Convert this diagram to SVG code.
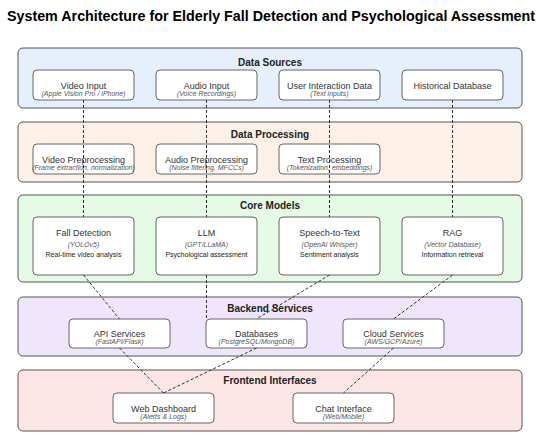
<svg xmlns="http://www.w3.org/2000/svg" width="540" height="436" viewBox="0 0 540 436">
<style>
text{font-family:"Liberation Sans",Arial,sans-serif;text-anchor:middle}
.title{font-size:14.3px;font-weight:bold;fill:#000}
.glabel{font-size:10px;font-weight:bold;fill:#222}
.grp{stroke:#555;stroke-width:1}
.node{fill:#fff;stroke:#666;stroke-width:1}
.nt{font-size:9px;fill:#333}
.ns{font-size:7px;font-style:italic;fill:#555}
.nd{font-size:7px;fill:#222}
.conn{stroke:#333;stroke-width:1;stroke-dasharray:3,2;fill:none}
</style>
<rect width="540" height="436" fill="#fff"/>
<text class="title" x="271" y="20.5">System Architecture for Elderly Fall Detection and Psychological Assessment</text>

<g id="group-data-sources">
<rect class="grp" x="18" y="48" width="504" height="60" rx="5" fill="#e6f0fd"/>
<text class="glabel" x="270" y="65.5">Data Sources</text>
</g>
<g id="group-data-processing">
<rect class="grp" x="18" y="122" width="504" height="60" rx="5" fill="#fdf0e6"/>
<text class="glabel" x="270" y="137.5">Data Processing</text>
</g>
<g id="group-core-models">
<rect class="grp" x="18" y="195" width="504" height="87" rx="5" fill="#e6fbe6"/>
<text class="glabel" x="270" y="209">Core Models</text>
</g>
<g id="group-backend">
<rect class="grp" x="18" y="297" width="504" height="59" rx="5" fill="#f0e6fc"/>
<text class="glabel" x="270" y="312">Backend Services</text>
</g>
<g id="group-frontend">
<rect class="grp" x="18" y="370" width="504" height="61" rx="5" fill="#fde6e6"/>
<text class="glabel" x="270" y="384">Frontend Interfaces</text>
</g>

<g id="video-input">
<rect class="node" x="33" y="70" width="101" height="30" rx="4"/>
<text class="nt" x="83.5" y="88.5">Video Input</text>
<text class="ns" x="83.5" y="95.5">(Apple Vision Pro / iPhone)</text>
</g>
<g id="audio-input">
<rect class="node" x="156" y="70" width="101" height="30" rx="4"/>
<text class="nt" x="206.5" y="88.5">Audio Input</text>
<text class="ns" x="206.5" y="95.5">(Voice Recordings)</text>
</g>
<g id="user-interaction-data">
<rect class="node" x="279" y="70" width="101" height="30" rx="4"/>
<text class="nt" x="329.5" y="88.5">User Interaction Data</text>
<text class="ns" x="329.5" y="95.5">(Text inputs)</text>
</g>
<g id="historical-database">
<rect class="node" x="402" y="70" width="101" height="30" rx="4"/>
<text class="nt" x="452.5" y="88.5">Historical Database</text>
</g>

<g id="video-preprocessing">
<rect class="node" x="33" y="144" width="101" height="30" rx="4"/>
<text class="nt" x="83.5" y="162.5">Video Preprocessing</text>
<text class="ns" x="83.5" y="169.5">(Frame extraction, normalization)</text>
</g>
<g id="audio-preprocessing">
<rect class="node" x="156" y="144" width="101" height="30" rx="4"/>
<text class="nt" x="206.5" y="162.5">Audio Preprocessing</text>
<text class="ns" x="206.5" y="169.5">(Noise filtering, MFCCs)</text>
</g>
<g id="text-processing">
<rect class="node" x="279" y="144" width="101" height="30" rx="4"/>
<text class="nt" x="329.5" y="162.5">Text Processing</text>
<text class="ns" x="329.5" y="169.5">(Tokenization, embeddings)</text>
</g>

<g id="fall-detection">
<rect class="node" x="33" y="217" width="101" height="58" rx="4"/>
<text class="nt" x="83.5" y="236" fill="#222">Fall Detection</text>
<text class="ns" x="83.5" y="246.5">(YOLOv5)</text>
<text class="nd" x="83.5" y="256.5">Real-time video analysis</text>
</g>
<g id="llm">
<rect class="node" x="156" y="217" width="101" height="58" rx="4"/>
<text class="nt" x="206.5" y="236">LLM</text>
<text class="ns" x="206.5" y="246.5">(GPT/LLaMA)</text>
<text class="nd" x="206.5" y="256.5">Psychological assessment</text>
</g>
<g id="speech-to-text">
<rect class="node" x="279" y="217" width="101" height="58" rx="4"/>
<text class="nt" x="329.5" y="236">Speech-to-Text</text>
<text class="ns" x="329.5" y="246.5">(OpenAI Whisper)</text>
<text class="nd" x="329.5" y="256.5">Sentiment analysis</text>
</g>
<g id="rag">
<rect class="node" x="402" y="217" width="101" height="58" rx="4"/>
<text class="nt" x="452.5" y="236">RAG</text>
<text class="ns" x="452.5" y="246.5">(Vector Database)</text>
<text class="nd" x="452.5" y="256.5">Information retrieval</text>
</g>

<g id="api-services">
<rect class="node" x="69" y="319" width="101" height="29" rx="4"/>
<text class="nt" x="119.5" y="337">API Services</text>
<text class="ns" x="119.5" y="344">(FastAPI/Flask)</text>
</g>
<g id="databases">
<rect class="node" x="206" y="319" width="101" height="29" rx="4"/>
<text class="nt" x="256.5" y="337">Databases</text>
<text class="ns" x="256.5" y="344">(PostgreSQL/MongoDB)</text>
</g>
<g id="cloud-services">
<rect class="node" x="343" y="319" width="101" height="29" rx="4"/>
<text class="nt" x="393.5" y="337">Cloud Services</text>
<text class="ns" x="393.5" y="344">(AWS/GCP/Azure)</text>
</g>

<g id="web-dashboard">
<rect class="node" x="113" y="393" width="101" height="30" rx="4"/>
<text class="nt" x="163.5" y="412">Web Dashboard</text>
<text class="ns" x="163.5" y="419">(Alerts &amp; Logs)</text>
</g>
<g id="chat-interface">
<rect class="node" x="293" y="393" width="101" height="30" rx="4"/>
<text class="nt" x="343.5" y="412">Chat Interface</text>
<text class="ns" x="343.5" y="419">(Web/Mobile)</text>
</g>

<g id="connectors">
<line class="conn" x1="83.5" y1="100" x2="83.5" y2="217"/>
<line class="conn" x1="206.5" y1="100" x2="206.5" y2="217"/>
<line class="conn" x1="329.5" y1="100" x2="329.5" y2="217"/>
<line class="conn" x1="452.5" y1="100" x2="452.5" y2="217"/>
<line class="conn" x1="83.5" y1="275" x2="119.5" y2="319"/>
<line class="conn" x1="206.5" y1="275" x2="206.5" y2="319"/>
<line class="conn" x1="329.5" y1="275" x2="256.5" y2="319"/>
<line class="conn" x1="452.5" y1="275" x2="393.5" y2="319"/>
<line class="conn" x1="119.5" y1="348" x2="163.5" y2="393"/>
<line class="conn" x1="256.5" y1="348" x2="163.5" y2="393"/>
<line class="conn" x1="393.5" y1="348" x2="343.5" y2="393"/>
</g>
</svg>
